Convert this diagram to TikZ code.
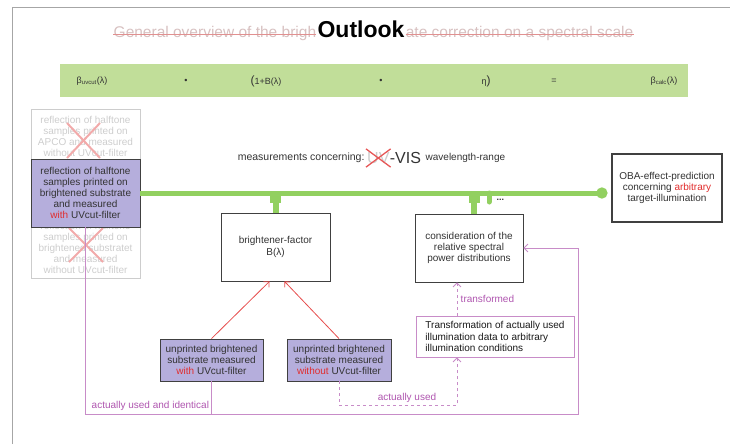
\documentclass[tikz,border=0pt]{standalone}
\usepackage{fontspec}
\setmainfont{Liberation Sans}
\usetikzlibrary{positioning, arrows.meta}

\definecolor{bandgreen}{RGB}{193,222,153}
\definecolor{linegreen}{RGB}{146,208,96}
\definecolor{lavender}{RGB}{181,174,220}
\definecolor{plum}{RGB}{200,140,200}
\definecolor{plumtext}{RGB}{175,85,175}
\definecolor{hotred}{RGB}{225,45,45}
\definecolor{fadered}{RGB}{242,170,170}
\definecolor{ghostgray}{RGB}{205,205,205}
\definecolor{titlegray}{RGB}{215,192,192}

\begin{document}
\begin{tikzpicture}[x=1pt, y=-1pt, >=stealth,
    box/.style={draw=black!75, thick, fill=white, align=center, inner sep=0pt,
        text=black!80, font=\fontsize{10}{11.2}\selectfont},
    ghostbox/.style={draw=ghostgray, align=center, inner sep=0pt,
        text=ghostgray, font=\fontsize{10}{11.2}\selectfont},
    formula/.style={font=\fontsize{9}{10}\selectfont, text=black!80},
    plumline/.style={draw=plum, thick},
    plumdash/.style={draw=plum, thick, dashed},
    plumlabel/.style={text=plumtext, font=\fontsize{10}{11}\selectfont},
    redarrow/.style={draw=hotred!85, thick, -{Straight Barb[length=4pt]}}]
    \useasboundingbox (0,0) rectangle (730,444);
    \draw[gray!70] (12,444) -- (12,7) -- (730,7);

    % title
    \node[font=\fontsize{23}{26}\bfseries, inner xsep=1pt] (outlook) at (361,29) {Outlook};
    \node[text=titlegray, font=\fontsize{15.5}{17}\selectfont, anchor=base east, inner xsep=0pt] (titleL)
        at (outlook.base west) {General overview of the brigh};
    \node[text=titlegray, font=\fontsize{15.5}{17}\selectfont, anchor=base west, inner xsep=0pt] (titleR)
        at (outlook.base east) {ate correction on a spectral scale};
    \draw[titlegray!75!red, thick] ([yshift=-1.5]titleL.west) -- ([yshift=-1.5]titleL.east);
    \draw[titlegray!75!red, thick] ([yshift=-1.5]titleR.west) -- ([yshift=-1.5]titleR.east);

    % formula band
    \fill[bandgreen] (60,64) rectangle (688,97);
    \node[formula] (bu) at (92,81) {β\textsubscript{uvcut}(λ)};
    \node[formula] (d1) at (186,81) {•};
    \node[formula] (bp) at (266,81) {{\fontsize{12}{12}\selectfont(}1+B(λ)};
    \node[formula] (d2) at (381,81) {•};
    \node[formula] (eta) at (486,81) {η{\fontsize{12}{12}\selectfont)}};
    \node[formula] (eq) at (554,81) {=};
    \node[formula] (bc) at (664,81) {β\textsubscript{calc}(λ)};

    % reflection boxes
    \node[ghostbox, minimum width=109, minimum height=55] (ghostA) at (85.5,136.5)
        {reflection of halftone\\samples printed on\\APCO and measured\\without UVcut-filter};
    \node[ghostbox, minimum width=109, minimum height=60] (ghostB) at (85.5,248)
        {reflection of halftone\\samples printed on\\brightened substratet\\and measured\\without UVcut-filter};
    \draw[fadered, line width=2pt] (67,123) -- (100,158) (100,123) -- (67,158);
    \draw[fadered, line width=2pt] (69,228) -- (103,262) (103,228) -- (69,262);
    \node[box, fill=lavender, minimum width=109, minimum height=68] (refl) at (85.5,193)
        {reflection of halftone\\samples printed on\\brightened substrate\\and measured\\\textcolor{hotred}{with} UVcut-filter};

    \node[box, very thick, minimum width=110, minimum height=68] (oba) at (667,188)
        {OBA-effect-prediction\\concerning \textcolor{hotred}{arbitrary}\\target-illumination};
    \node[box, minimum width=109, minimum height=68] (bright) at (275.5,247)
        {brightener-factor\\B(λ)};
    \node[box, minimum width=108, minimum height=68] (consid) at (469,248)
        {consideration of the\\relative spectral\\power distributions};
    \node[box, fill=lavender, minimum width=103, minimum height=42] (uvwith) at (211.5,360)
        {unprinted brightened\\substrate measured\\\textcolor{hotred}{with} UVcut-filter};
    \node[box, fill=lavender, minimum width=104, minimum height=42] (uvwithout) at (339,360)
        {unprinted brightened\\substrate measured\\\textcolor{hotred}{without} UVcut-filter};
    \node[box, draw=plum, align=left, text=black!90, minimum width=158, minimum height=41] (transf) at (495,336.5)
        {Transformation of actually used\\illumination data to arbitrary\\illumination conditions};

    % measurements line
    \node[text=black!80, font=\fontsize{10.5}{12}\selectfont, anchor=east] (meas) at (368,158)
        {measurements concerning:};
    \node[text=ghostgray, font=\fontsize{16}{18}\selectfont, right=-2pt of meas, inner xsep=1pt] (uv) {UV};
    \node[text=black!80, font=\fontsize{16}{18}\selectfont, right=-2pt of uv, inner xsep=1pt] (vis) {-VIS};
    \node[text=black!80, font=\fontsize{10}{12}\selectfont, right=0pt of vis] (range) {wavelength-range};
    \draw[hotred!80, line width=1.3pt] (uv.north west) -- (uv.south east) (uv.north east) -- (uv.south west);

    \draw[linegreen, line width=5pt, -{Circle[length=11pt]}] (refl.east) -- ([xshift=-4]refl.east -| oba.west);
    \coordinate (tapA) at (bright.north |- refl.east);
    \coordinate (tapB) at ([xshift=5]consid.north |- refl.east);
    \draw[linegreen, line width=6pt] (tapA) -- (bright.north);
    \draw[linegreen, line width=6pt] (tapB) -- (tapB |- consid.north);
    \fill[linegreen] ([shift={(-5.5,3)}]tapA) rectangle ([shift={(5.5,10)}]tapA);
    \fill[linegreen] ([shift={(-5.5,3)}]tapB) rectangle ([shift={(5.5,10)}]tapB);
    \draw[linegreen, line width=5pt, line cap=round] ([xshift=15]tapB) -- ([shift={(15,9)}]tapB);
    \node[font=\fontsize{9}{10}\bfseries, text=black!80, anchor=west] (more) at ([shift={(19,7)}]tapB) {...};

    \draw[redarrow] (uvwith.north) -- ([xshift=-6]bright.south);
    \draw[redarrow] (uvwithout.north) -- ([xshift=9]bright.south);

    % illumination feedback
    \coordinate (base) at (0,414);
    \coordinate (feedR) at (578,414);
    \draw[plumline, -{Straight Barb[length=4pt]}] (refl.south) |- (feedR) |- (consid.east);
    \draw[plumline] (uvwith.south) -- (uvwith.south |- base);
    \node[plumlabel, anchor=south west, inner sep=1pt] (idlabel) at ([xshift=5,yshift=2]refl.south |- base)
        {actually used and identical};
    \coordinate (tin) at ([xshift=-38]transf.south);
    \coordinate (tout) at ([xshift=-38]transf.north);
    \draw[plumdash, -{Straight Barb[length=4pt]}] (uvwithout.south) -- ++(0,24) -| (tin);
    \node[plumlabel] (usedlabel) at (407,398) {actually used};
    \draw[plumdash, -{Straight Barb[length=4pt]}] (tout) -- (tout |- consid.south)
        node[midway, right, plumlabel] (translabel) {transformed};
\end{tikzpicture}
\end{document}
